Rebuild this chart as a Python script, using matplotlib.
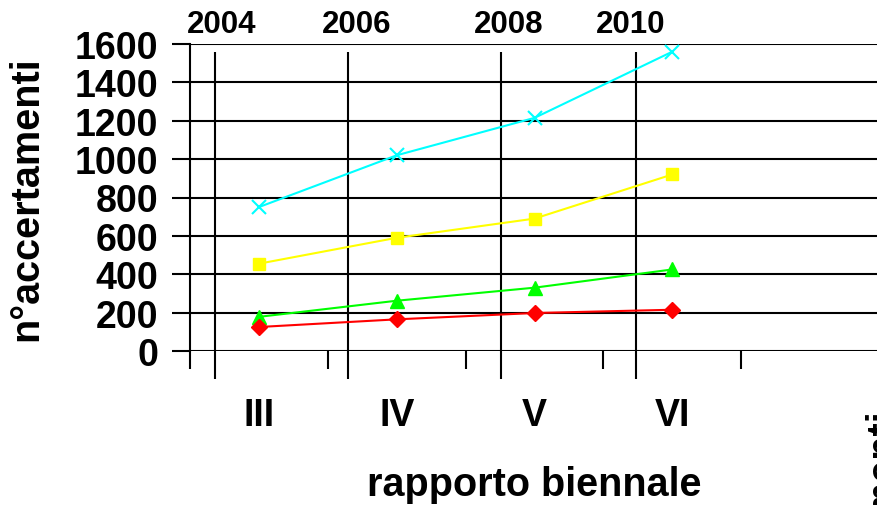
import matplotlib.pyplot as plt
import matplotlib.transforms as mtransforms

#====================================================================================================

categories = ["III", "IV", "V", "VI", ""]

seriesCyan   = [750, 1020, 1215, 1560]
seriesYellow = [455, 590, 690, 920]
seriesGreen  = [178, 262, 330, 425]
seriesRed    = [125, 165, 198, 215]

yearLabels = ["2004", "2006", "2008", "2010"]
yearLineX  = [-0.32, 0.65, 1.76, 2.74]
yearLabelX = [-0.27, 0.71, 1.81, 2.70]

yTicks = [0, 200, 400, 600, 800, 1000, 1200, 1400, 1600]

#====================================================================================================

def main():

    plt.rcParams["font.family"] = ["Liberation Sans", "DejaVu Sans"]
    plt.rcParams["font.weight"] = "bold"

    fig = plt.figure(figsize = (8.77, 5.06), dpi = 100)
    ax = fig.add_axes([190 / 877, 1 - 352 / 506, 689 / 877, 307 / 506])

    x = list(range(len(seriesCyan)))

    ax.plot(x, seriesCyan,   c = "#00FFFF", lw = 1.5, marker = "x", ms = 10, mew = 1.5, zorder = 5, clip_on = False)
    ax.plot(x, seriesYellow, c = "#FFFF00", lw = 1.5, marker = "s", ms = 8,  zorder = 5, clip_on = False)
    ax.plot(x, seriesGreen,  c = "#00FF00", lw = 1.5, marker = "^", ms = 10, zorder = 5, clip_on = False)
    ax.plot(x, seriesRed,    c = "#FF0000", lw = 1.5, marker = "D", ms = 8,  zorder = 5, clip_on = False)

    # axes limits and ticks
    ax.set_xlim(-0.5, len(categories) - 0.5)
    ax.set_ylim(0, 1600)

    ax.set_yticks(yTicks)
    ax.set_yticklabels([str(v) for v in yTicks], fontsize = 27, fontweight = "bold")
    ax.yaxis.grid(True, color = "black", lw = 1.5)

    ax.set_xticks([i - 0.5 for i in range(len(categories) + 1)])
    ax.set_xticklabels([])
    ax.set_xticks(range(len(categories)), minor = True)
    ax.set_xticklabels(categories, minor = True, fontsize = 27, fontweight = "bold")

    ax.tick_params(axis = "y", direction = "out", length = 13, width = 1.5, pad = 10)
    ax.tick_params(axis = "x", which = "major", direction = "out", length = 13, width = 1.5)
    ax.tick_params(axis = "x", which = "minor", length = 0, pad = 33)

    for side in ["top", "right", "bottom"]:
        ax.spines[side].set_visible(False)
    ax.spines["left"].set_linewidth(1.5)

    ax.set_axisbelow(True)

    # year lines of the secondary axis
    trans = mtransforms.blended_transform_factory(ax.transData, ax.transAxes)
    ax.vlines(yearLineX, -0.09, 0.975, colors = "black", lw = 1.5, transform = trans, clip_on = False, zorder = 2)
    for xv, lab in zip(yearLabelX, yearLabels):
        ax.text(xv, 1.065, lab, transform = trans, ha = "center", va = "center", fontsize = 22.5, fontweight = "bold")

    ax.set_ylabel("n°accertamenti", fontsize = 28.5, fontweight = "bold")
    ax.yaxis.set_label_coords(-0.21, 0.5)
    ax.set_xlabel("rapporto biennale", fontsize = 28.5, fontweight = "bold")
    ax.xaxis.set_label_coords(0.5, -0.372)

    # secondary y label, cut by the figure edge
    fig.text(863 / 877, 1 - 408 / 506, "n°accertamenti", rotation = 90, ha = "left", va = "top",
             fontsize = 28.5, fontweight = "bold")

    plt.savefig("out.png", dpi = 100)

#====================================================================================================

if __name__ == "__main__":

    main()
